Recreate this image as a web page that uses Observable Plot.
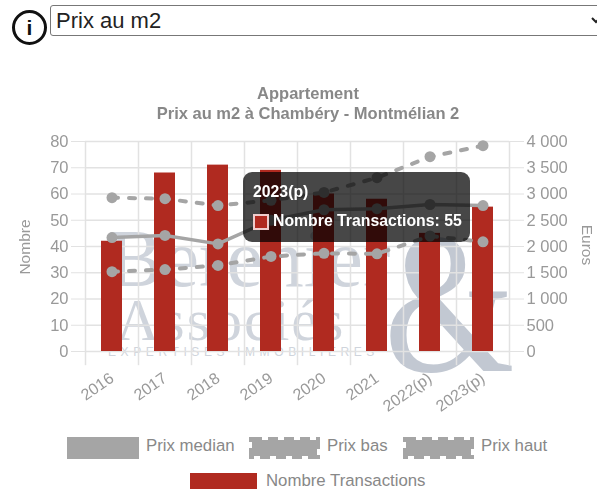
<!DOCTYPE html>
<html lang="fr"><head><meta charset="utf-8">
<script src="https://cdn.jsdelivr.net/npm/d3@7"></script>
<script src="https://cdn.jsdelivr.net/npm/@observablehq/plot@0.6"></script>
<style>
html,body{margin:0;padding:0;background:#fff;overflow:hidden}
#page{position:relative;width:597px;height:491px;font-family:"Liberation Sans",Arial,sans-serif;color:#999;filter:blur(.55px);background:#fff}
#page>*{position:absolute}
#info{left:12px;top:10px;width:29px;height:29px;border:3px solid #111;border-radius:50%;color:#111;font:bold 21px/29px "Liberation Sans";text-align:center}
#sel{left:50px;top:5px;width:555px;height:31px;box-sizing:border-box;border:1px solid #777;border-radius:3px;background:#fff;font:22px "Liberation Sans";color:#222;padding:0 0 0 1px}
#t1,#t2{left:0;width:616px;text-align:center;font:bold 16.5px "Liberation Sans";color:#888;white-space:nowrap}
#t1{top:84px}#t2{top:104px}
#chart{left:0;top:125px}
.rot{font-size:15.5px;color:#999;white-space:nowrap}
.wm{font-family:"Liberation Serif",serif;color:#a9b2c0;opacity:.55;white-space:nowrap;line-height:1}
#tip{left:243px;top:172px;width:227px;height:70px;background:rgba(0,0,0,.72);border-radius:9px;color:#fff;font:bold 15.8px "Liberation Sans"}
#tip div{position:absolute;white-space:nowrap}
.lg{font-size:16.8px;color:#888;white-space:nowrap}
</style></head><body>
<div id="page"></div>
<script>
const annees=["2016","2017","2018","2019","2020","2021","2022(p)","2023(p)"];
const nombre=[42,68,71,69,60,58,45,55];
const prixMedian=[2170,2210,2050,2500,2700,2720,2800,2780];
const prixBas=[1520,1560,1640,1810,1870,1860,2200,2090];
const prixHaut=[2930,2910,2780,2880,3030,3310,3710,3920];
const ticksNombre=[0,10,20,30,40,50,60,70,80];
const euroParNombre=50;
const gris="#a5a5a5", rouge="#b02a20", grille="#e2e2e2";

const lignes=annees.map((a,i)=>({a,n:nombre[i],med:prixMedian[i]/euroParNombre,bas:prixBas[i]/euroParNombre,haut:prixHaut[i]/euroParNombre}));
const euro=d=>{const v=d*euroParNombre;return v>=1000?`${Math.floor(v/1000)} ${String(v%1000).padStart(3,"0")}`:String(v)};
const demiPas=26.5;
const bord=[...annees.map(a=>({a,dx:-demiPas})),{a:annees[7],dx:demiPas}];

const plot=Plot.plot({
  width:597,height:300,marginTop:16,marginBottom:74,marginLeft:85,marginRight:88,
  style:{fontFamily:"Liberation Sans",background:"transparent"},
  x:{domain:annees,paddingInner:.6,paddingOuter:.3,label:null},
  y:{domain:[0,80],label:null},
  marks:[
    Plot.ruleY(ticksNombre,{stroke:grille,strokeWidth:1.5}),
    ...[-demiPas,demiPas].map(dx=>Plot.ruleX(bord.filter(b=>b.dx===dx),{x:"a",dx,y1:-5.4,y2:80,stroke:grille,strokeWidth:1.5})),
    Plot.axisY({ticks:ticksNombre,tickSize:14,tickPadding:3,stroke:grille,fill:"#999",fontSize:16.5,label:null}),
    Plot.axisY({anchor:"right",ticks:ticksNombre,tickFormat:euro,tickSize:14,tickPadding:3,stroke:grille,fill:"#999",fontSize:16.5,label:null}),
    Plot.axisX({tickRotate:-35,tickSize:0,tickPadding:25,fill:"#999",fontSize:16,label:null}),
    Plot.barY(lignes,{x:"a",y:"n",fill:rouge}),
    Plot.line(lignes,{x:"a",y:"med",stroke:gris,strokeWidth:3.5}),
    Plot.line(lignes,{x:"a",y:"bas",stroke:gris,strokeWidth:4,strokeDasharray:"6,11"}),
    Plot.line(lignes,{x:"a",y:"haut",stroke:gris,strokeWidth:4,strokeDasharray:"6,11"}),
    ...["med","bas","haut"].map(k=>Plot.dot(lignes,{x:"a",y:k,r:5.5,fill:gris}))
  ]
});

const page=document.getElementById("page");
const swatch=(l,t,w,h,dash)=>dash
 ?`<svg style="position:absolute;left:${l}px;top:${t}px" width="${w}" height="${h}"><rect x="3" y="3" width="${w-6}" height="${h-6}" fill="${gris}" stroke="${gris}" stroke-width="6" stroke-dasharray="10,6"/></svg>`
 :`<svg style="position:absolute;left:${l}px;top:${t}px" width="${w}" height="${h}"><rect width="${w}" height="${h}" fill="${gris}"/></svg>`;
page.innerHTML=`
<div id="info">i</div>
<select id="sel"><option>Prix au m2</option></select>
<div id="t1">Appartement</div>
<div id="t2">Prix au m2 à Chambéry - Montmélian 2</div>
<div class="wm" style="left:108px;top:218px;font-size:82px">Berenier</div>
<div class="wm" style="left:116px;top:290px;font-size:60px;letter-spacing:2px">Associés</div>
<div class="wm" style="left:108px;top:346px;font-size:12px;letter-spacing:4.6px;font-family:'Liberation Sans'">EXPERTISES IMMOBILIERES</div>
<div class="wm" style="left:384px;top:202px;font-size:168px;opacity:.7;transform:scaleY(1.2);transform-origin:top">&amp;</div>`;
plot.id="chart";
page.appendChild(plot);
page.insertAdjacentHTML("beforeend",`
<div class="rot" style="left:25px;top:247px;transform:translate(-50%,-50%) rotate(-90deg)">Nombre</div>
<div class="rot" style="left:587px;top:245px;transform:translate(-50%,-50%) rotate(90deg)">Euros</div>
<div id="tip">
 <div style="left:10px;top:11px">${annees[7]}</div>
 <div style="left:10px;top:42px;width:12px;height:12px;background:${rouge};border:2px solid #ecc"></div>
 <div style="left:30px;top:40px">Nombre Transactions: ${nombre[7]}</div>
</div>
${swatch(67,437,72,22,false)}<div class="lg" style="left:146px;top:436px">Prix median</div>
${swatch(249,437,71,22,true)}<div class="lg" style="left:327px;top:436px">Prix bas</div>
${swatch(403,437,71,22,true)}<div class="lg" style="left:481px;top:436px">Prix haut</div>
<div style="position:absolute;left:190px;top:473px;width:67px;height:16px;background:${rouge}"></div>
<div class="lg" style="left:266px;top:471px">Nombre Transactions</div>`);
</script>
</body></html>
